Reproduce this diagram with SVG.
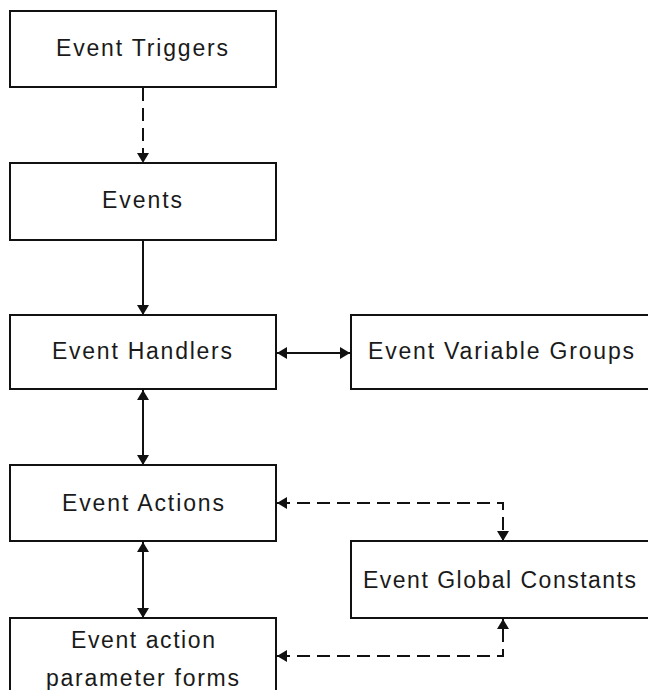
<svg xmlns="http://www.w3.org/2000/svg" width="648" height="690" viewBox="0 0 648 690">
  <style>
    .box { fill: #ffffff; stroke: #111111; stroke-width: 2; }
    .lbl { font-family: "Liberation Sans", Arial, sans-serif; font-size: 23px; fill: #1a1a1a; }
    .solid { fill: none; stroke: #111111; stroke-width: 2; }
    .dash { fill: none; stroke: #111111; stroke-width: 2; stroke-dasharray: 13 7; }
  </style>
  <defs>
    <marker id="arr" viewBox="0 0 10 12" refX="10" refY="6" markerWidth="10" markerHeight="13" markerUnits="userSpaceOnUse" orient="auto-start-reverse">
      <path d="M0,0 L10,6 L0,12 Z" fill="#111111"/>
    </marker>
  </defs>
  <rect width="648" height="690" fill="#ffffff"/>

  <g id="connectors">
    <path class="dash" d="M143,88 V163" marker-end="url(#arr)"/>
    <path class="solid" d="M143,241 V315" marker-end="url(#arr)"/>
    <path class="solid" d="M277,353 H350" marker-start="url(#arr)" marker-end="url(#arr)"/>
    <path class="solid" d="M143,390 V465" marker-start="url(#arr)" marker-end="url(#arr)"/>
    <path class="solid" d="M143,542 V618" marker-start="url(#arr)" marker-end="url(#arr)"/>
    <path class="dash" d="M277,503 H503 V541" marker-start="url(#arr)" marker-end="url(#arr)"/>
    <path class="dash" d="M277,656 H503 V619" marker-start="url(#arr)" marker-end="url(#arr)"/>
  </g>

  <g id="event-triggers">
    <rect class="box" x="10" y="11" width="266" height="76"/>
    <text class="lbl" x="56" y="56" textLength="172" lengthAdjust="spacing">Event Triggers</text>
  </g>
  <g id="events">
    <rect class="box" x="10" y="163" width="266" height="77"/>
    <text class="lbl" x="102" y="208" textLength="80" lengthAdjust="spacing">Events</text>
  </g>
  <g id="event-handlers">
    <rect class="box" x="10" y="315" width="266" height="74"/>
    <text class="lbl" x="52" y="359" textLength="180" lengthAdjust="spacing">Event Handlers</text>
  </g>
  <g id="event-variable-groups">
    <rect class="box" x="351" y="315" width="310" height="74"/>
    <text class="lbl" x="368" y="359" textLength="266" lengthAdjust="spacing">Event Variable Groups</text>
  </g>
  <g id="event-actions">
    <rect class="box" x="10" y="465" width="266" height="76"/>
    <text class="lbl" x="62" y="511" textLength="162" lengthAdjust="spacing">Event Actions</text>
  </g>
  <g id="event-global-constants">
    <rect class="box" x="351" y="541" width="310" height="77"/>
    <text class="lbl" x="363" y="588" textLength="273" lengthAdjust="spacing">Event Global Constants</text>
  </g>
  <g id="event-action-parameter-forms">
    <rect class="box" x="10" y="618" width="266" height="100"/>
    <text class="lbl" x="71" y="648" textLength="144" lengthAdjust="spacing">Event action</text>
    <text class="lbl" x="46" y="686" textLength="193" lengthAdjust="spacing">parameter forms</text>
  </g>
</svg>
